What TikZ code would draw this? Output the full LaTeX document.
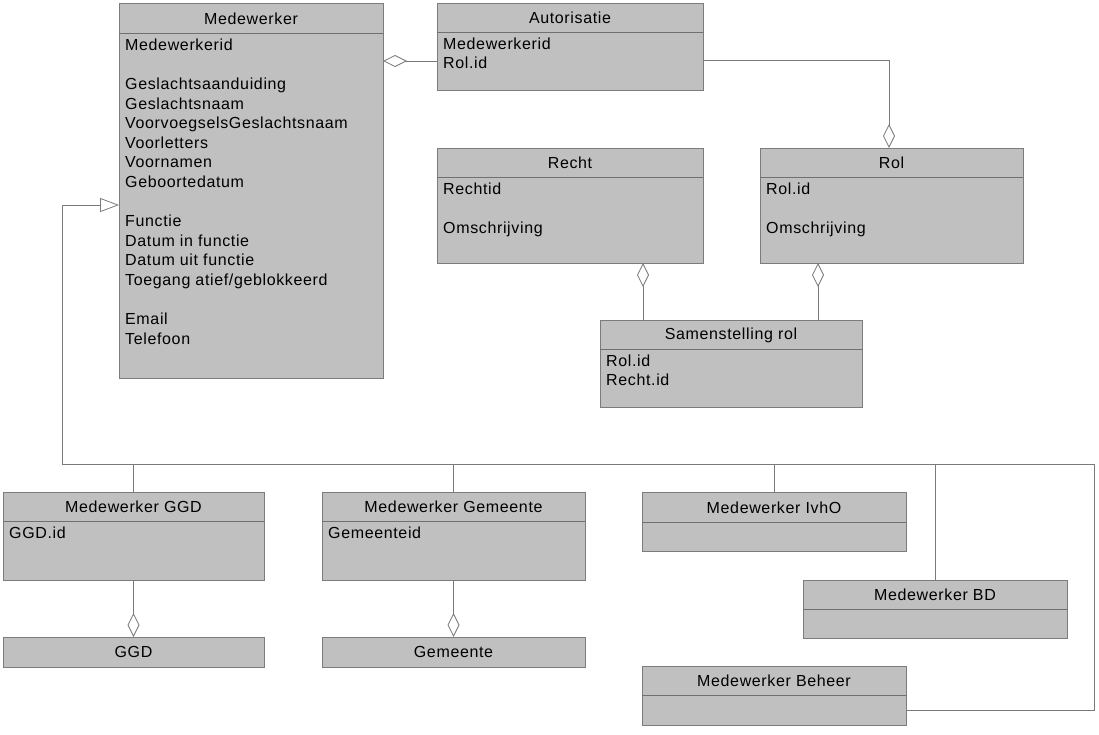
\documentclass[tikz,border=0pt]{standalone}
\usepackage{fontspec}
\setmainfont[LetterSpace=4]{Liberation Sans}
\usetikzlibrary{arrows.meta}
\definecolor{boxfill}{HTML}{C0C0C0}
\definecolor{boxline}{HTML}{7C7C7C}
\definecolor{sepcol}{HTML}{707070}
\definecolor{conncol}{HTML}{7A7A7A}
\newcommand\umlcls[8]{%
  \node[cls, minimum width=#4pt, minimum height=#5pt] (#1) at (#2,#3) {};
  \draw[sepline] (#2,#3+#6) -- ++(#4,0);
  \node[ttl] (#1-t) at (#2+#4/2, #3+#6/2+0.5) {#7};
  \node[att] (#1-a) at (#2+6, #3+#6+5.5) {#8};
}
\begin{document}
\begin{tikzpicture}[x=1pt,y=-1pt,
  cls/.style={draw=boxline, fill=boxfill, line width=1pt, anchor=north west, inner sep=0pt, outer sep=0pt},
  sepline/.style={draw=sepcol, line width=1pt},
  ttl/.style={font=\fontsize{16}{18}\selectfont, anchor=center, inner sep=0pt},
  att/.style={font=\fontsize{16}{19.6}\selectfont, anchor=north west, align=left, inner sep=0pt},
  conn/.style={draw=conncol, line width=0.8pt},
  agg/.style={conn, -{Diamond[open, length=24pt, width=12pt, line width=0.8pt]}},
  gen/.style={conn, -{Triangle[open, length=19pt, width=14pt, line width=0.8pt]}}
]
\useasboundingbox (0,0) rectangle (1099,734);

\umlcls{med}{119}{3}{264}{375}{30}{Medewerker}{Medewerkerid\\ \\ Geslachtsaanduiding\\ Geslachtsnaam\\ VoorvoegselsGeslachtsnaam\\ Voorletters\\ Voornamen\\ Geboortedatum\\ \\ Functie\\ Datum in functie\\ Datum uit functie\\ Toegang atief/geblokkeerd\\ \\ Email\\ Telefoon}
\umlcls{aut}{437}{3}{266}{87}{29}{Autorisatie}{Medewerkerid\\ Rol.id}
\umlcls{recht}{437}{148}{266}{115}{29}{Recht}{Rechtid\\ \\ Omschrijving}
\umlcls{rol}{760}{148}{263}{115}{29}{Rol}{Rol.id\\ \\ Omschrijving}
\umlcls{sam}{600}{320}{262}{87}{29}{Samenstelling rol}{Rol.id\\ Recht.id}
\umlcls{mggd}{3}{492}{261}{88}{29}{Medewerker GGD}{GGD.id}
\umlcls{mgem}{322}{492}{263}{88}{29}{Medewerker Gemeente}{Gemeenteid}
\umlcls{mivho}{642}{492}{264}{59}{30}{Medewerker IvhO}{}
\umlcls{mbd}{803}{580}{264}{58}{29}{Medewerker BD}{}
\umlcls{mbeh}{642}{666}{264}{59}{29}{Medewerker Beheer}{}

\node[cls, minimum width=261pt, minimum height=30pt] (ggd) at (3,637) {};
\node[ttl] (ggd-t) at (ggd.center) {GGD};
\node[cls, minimum width=263pt, minimum height=30pt] (gem) at (322,637) {};
\node[ttl] (gem-t) at (gem.center) {Gemeente};

% aggregations
\draw[agg] (aut.west |- 0,61) -- (med.east |- 0,61);
\draw[agg] (aut.east |- 0,60) -| (rol.north -| 889,0);
\draw[agg] (sam.north -| 643,0) -- (recht.south -| 643,0);
\draw[agg] (sam.north -| 818,0) -- (rol.south -| 818,0);
\draw[agg] (mggd.south) -- (ggd.north);
\draw[agg] (mgem.south) -- (gem.north);

% generalization
\coordinate (g1) at (1094,710);
\coordinate (g2) at (1094,464);
\coordinate (g3) at (62,464);
\coordinate (g4) at (62,205);
\draw[gen] (mbeh.east |- 0,710) -- (g1) -- (g2) -- (g3) -- (g4) -- (med.west |- 0,205);
\draw[conn] (mggd.north) -- (mggd.north |- g3);
\draw[conn] (mgem.north) -- (mgem.north |- g3);
\draw[conn] (mivho.north) -- (mivho.north |- g3);
\draw[conn] (mbd.north) -- (mbd.north |- g3);
\end{tikzpicture}
\end{document}
